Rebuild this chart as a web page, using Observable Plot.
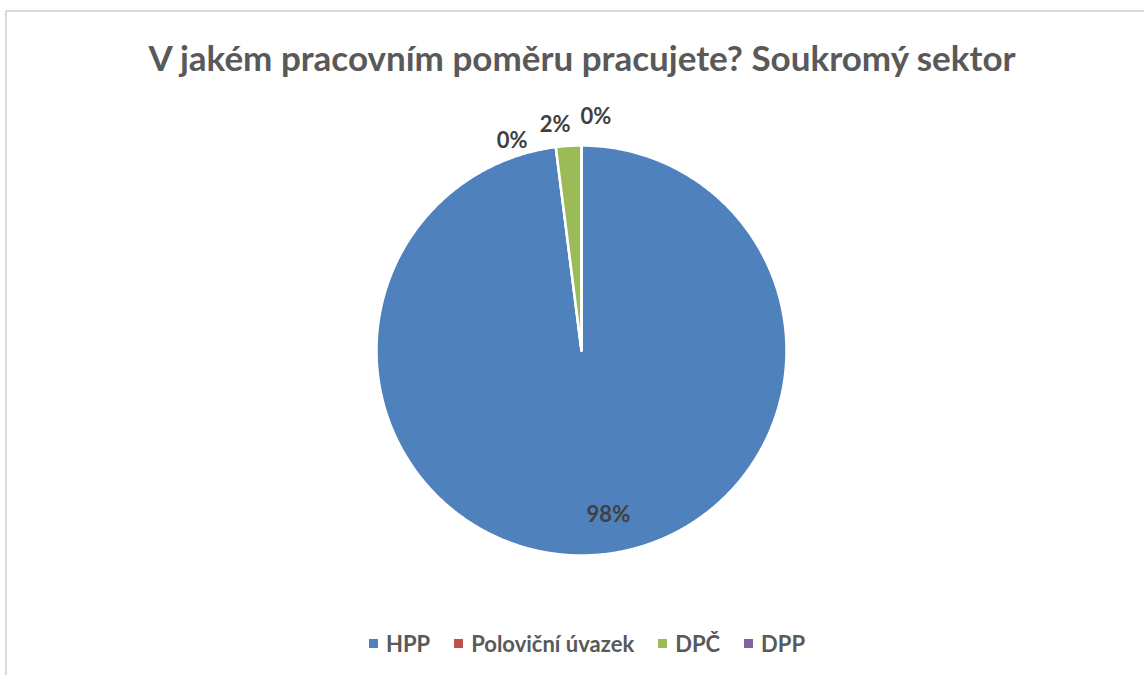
<!DOCTYPE html>
<html><head><meta charset="utf-8">
<script src="https://cdn.jsdelivr.net/npm/d3@7"></script>
<script src="https://cdn.jsdelivr.net/npm/@observablehq/plot@0.6"></script>
<style>
html,body{margin:0;padding:0;background:#fff;}
body{width:1144px;height:675px;overflow:hidden;position:relative;font-family:Lato,"Open Sans",sans-serif;}
#frame{position:absolute;left:5px;top:10px;width:1200px;height:720px;border:2px solid #d9d9d9;box-sizing:border-box;}
#title{position:absolute;left:0;width:1164px;top:36px;text-align:center;font-weight:bold;font-size:35px;line-height:42px;color:#595959;white-space:nowrap;}
#chart{position:absolute;left:0;top:85px;}
#legend{position:absolute;left:0;width:1174px;top:628px;height:30px;display:flex;justify-content:center;align-items:center;font-weight:bold;font-size:22px;color:#595959;white-space:nowrap;}
#legend .item{display:flex;align-items:center;margin:0 12px;}
#legend .sw{width:9px;height:9px;margin-right:8px;}
</style></head>
<body>
<div id="frame"></div>
<div id="title"></div>
<div id="chart"></div>
<div id="legend"></div>
<script>
const titleText = "V jakém pracovním poměru pracujete? Soukromý sektor";
const categories = ["HPP", "Poloviční úvazek", "DPČ", "DPP"];
const values = [98, 0, 2, 0];
const labels = ["98%", "0%", "2%", "0%"];
const colors = ["#4F81BD", "#C0504D", "#9BBB59", "#8064A2"];

// layout-only label nudges (data units), not data
const labelNudge = [[0.08, 0.01], [-0.2, -0.07], [-0.06, 0.0], [0.07, 0.04]];

document.getElementById("title").textContent = titleText;

const rows = categories.map((c, i) => ({category: c, value: values[i], label: labels[i], i}));
const arcs = d3.pie().sort(null).value(d => d.value)(rows);

const slicePts = [];
for (const a of arcs) {
  const cat = a.data.category;
  slicePts.push({category: cat, x: 0, y: 0});
  const n = Math.max(1, Math.ceil((a.endAngle - a.startAngle) / (Math.PI / 360)));
  for (let k = 0; k <= n; k++) {
    const t = a.startAngle + (a.endAngle - a.startAngle) * k / n;
    slicePts.push({category: cat, x: Math.sin(t), y: Math.cos(t)});
  }
}

const labelPts = arcs.map((a, j) => {
  const mid = (a.startAngle + a.endAngle) / 2;
  const share = a.data.value / d3.sum(values);
  const r = share > 0.05 ? 0.815 : 1.1;
  return {label: a.data.label, x: r * Math.sin(mid) + labelNudge[j][0], y: r * Math.cos(mid) + labelNudge[j][1]};
});

const cx = 581, cy = 350 - 85, R = 205;
const plot = Plot.plot({
  width: 1144,
  height: 520,
  margin: 0,
  x: {domain: [-1, 1], range: [cx - R, cx + R], axis: null},
  y: {domain: [-1, 1], range: [cy + R, cy - R], axis: null},
  color: {domain: categories, range: colors},
  marks: [
    Plot.line(slicePts, {x: "x", y: "y", z: "category", fill: "category", stroke: "white", strokeWidth: 2.5, curve: "linear-closed"}),
    Plot.text(labelPts, {x: "x", y: "y", text: "label", fill: "#404040", fontSize: 22, fontWeight: "bold", fontFamily: "Lato"})
  ]
});
document.getElementById("chart").appendChild(plot);

const legend = document.getElementById("legend");
categories.forEach((c, i) => {
  const item = document.createElement("div");
  item.className = "item";
  const sw = document.createElement("span");
  sw.className = "sw";
  sw.style.background = colors[i];
  const tx = document.createElement("span");
  tx.textContent = c;
  item.appendChild(sw); item.appendChild(tx);
  legend.appendChild(item);
});
</script>
</body></html>
